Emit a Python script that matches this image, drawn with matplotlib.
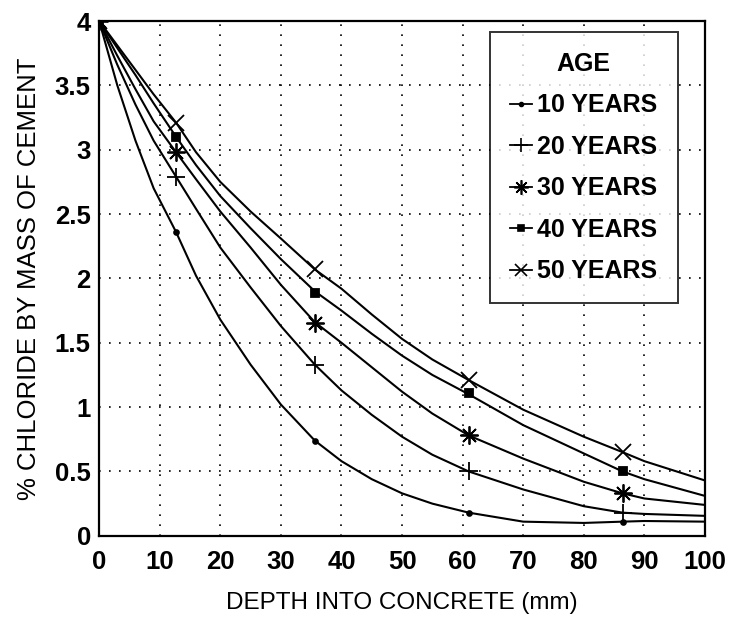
import matplotlib
matplotlib.use("Agg")
import matplotlib.pyplot as plt
from matplotlib.lines import Line2D

plt.rcParams['font.family'] = ['Liberation Sans', 'DejaVu Sans']

# --- data ---
AGES = ["10 YEARS", "20 YEARS", "30 YEARS", "40 YEARS", "50 YEARS"]

# measured points (markers)
MARK_X = [0, 12.7, 35.6, 61.0, 86.4]
MARK_10 = [4.0, 2.36, 0.74, 0.18, 0.11]
MARK_20 = [4.0, 2.79, 1.33, 0.50, 0.18]
MARK_30 = [4.0, 2.98, 1.65, 0.78, 0.33]
MARK_40 = [4.0, 3.10, 1.89, 1.11, 0.50]
MARK_50 = [4.0, 3.21, 2.07, 1.21, 0.65]

# fitted curves, read at these depths
CURVE_X = [0, 3, 6, 9, 12.7, 16, 20, 25, 30, 35.6, 40, 45, 50, 55, 61, 70, 80, 86.4, 90, 100]
CURVE_10 = [4.0, 3.50, 3.07, 2.70, 2.36, 2.02, 1.68, 1.33, 1.02, 0.74, 0.58, 0.44, 0.33, 0.25, 0.18, 0.11, 0.10, 0.11, 0.115, 0.11]
CURVE_20 = [4.0, 3.66, 3.35, 3.07, 2.79, 2.54, 2.24, 1.93, 1.63, 1.33, 1.13, 0.94, 0.77, 0.63, 0.50, 0.36, 0.23, 0.18, 0.17, 0.155]
CURVE_30 = [4.0, 3.73, 3.47, 3.22, 2.98, 2.77, 2.52, 2.24, 1.95, 1.66, 1.50, 1.31, 1.12, 0.95, 0.78, 0.60, 0.42, 0.33, 0.29, 0.24]
CURVE_40 = [4.0, 3.79, 3.58, 3.36, 3.10, 2.88, 2.64, 2.39, 2.15, 1.90, 1.75, 1.57, 1.40, 1.25, 1.10, 0.86, 0.64, 0.50, 0.44, 0.31]
CURVE_50 = [4.0, 3.81, 3.62, 3.43, 3.21, 2.98, 2.75, 2.52, 2.31, 2.07, 1.92, 1.72, 1.53, 1.37, 1.21, 0.98, 0.77, 0.65, 0.58, 0.43]

X_TICKS = [0, 10, 20, 30, 40, 50, 60, 70, 80, 90, 100]
Y_TICKS = [0, 0.5, 1, 1.5, 2, 2.5, 3, 3.5, 4]
Y_TICK_LABELS = ["0", "0.5", "1", "1.5", "2", "2.5", "3", "3.5", "4"]

# marker style per age: (marker, size)
STYLES = [(".", 7), ("+", 13), ((8, 2, 0), 13), ("s", 6), ("x", 11)]

fig = plt.figure(figsize=(7.29, 6.18), dpi=100)
ax = fig.add_axes([0.136, 0.133, 0.831, 0.833])

curves = [CURVE_10, CURVE_20, CURVE_30, CURVE_40, CURVE_50]
marks = [MARK_10, MARK_20, MARK_30, MARK_40, MARK_50]

handles = []
for label, cy, my, (mk, ms) in zip(AGES, curves, marks, STYLES):
    ax.plot(CURVE_X, cy, color="black", linewidth=1.5, zorder=3)
    ax.plot(MARK_X, my, linestyle="none", marker=mk, markersize=ms,
            color="black", markeredgewidth=1.3, zorder=4)
    handles.append(Line2D([], [], color="black", linewidth=1.3, marker=mk,
                          markersize=ms * 0.8, markeredgewidth=1.2, label=label))

ax.set_xlim(0, 100)
ax.set_ylim(0, 4)
ax.set_xticks(X_TICKS)
ax.set_yticks(Y_TICKS)
ax.set_yticklabels(Y_TICK_LABELS)
ax.tick_params(axis="both", which="both", length=0, labelsize=18.5)
ax.tick_params(axis="x", pad=10)
ax.tick_params(axis="y", pad=6)
for lab in ax.get_xticklabels() + ax.get_yticklabels():
    lab.set_fontweight("bold")

ax.grid(True, color="black", linestyle=(0, (1, 5)), linewidth=1.2)
for sp in ax.spines.values():
    sp.set_linewidth(1.6)
    sp.set_color("black")

ax.set_xlabel("DEPTH INTO CONCRETE (mm)", fontsize=17.5, labelpad=13)
ax.set_ylabel("% CHLORIDE BY MASS OF CEMENT", fontsize=18.5, labelpad=10)

leg = ax.legend(handles=handles, title="AGE", loc="upper right",
                bbox_to_anchor=(0.955, 0.979), fontsize=18, title_fontsize=18,
                frameon=True, fancybox=False, edgecolor="black",
                handlelength=0.9, handletextpad=0.2, labelspacing=0.7,
                borderpad=0.8, borderaxespad=0)
leg.get_frame().set_linewidth(1.4)
for t in leg.get_texts():
    t.set_fontweight("bold")
leg.get_title().set_fontweight("bold")
leg.set_zorder(5)

fig.savefig("out.png", dpi=100, facecolor="white")
